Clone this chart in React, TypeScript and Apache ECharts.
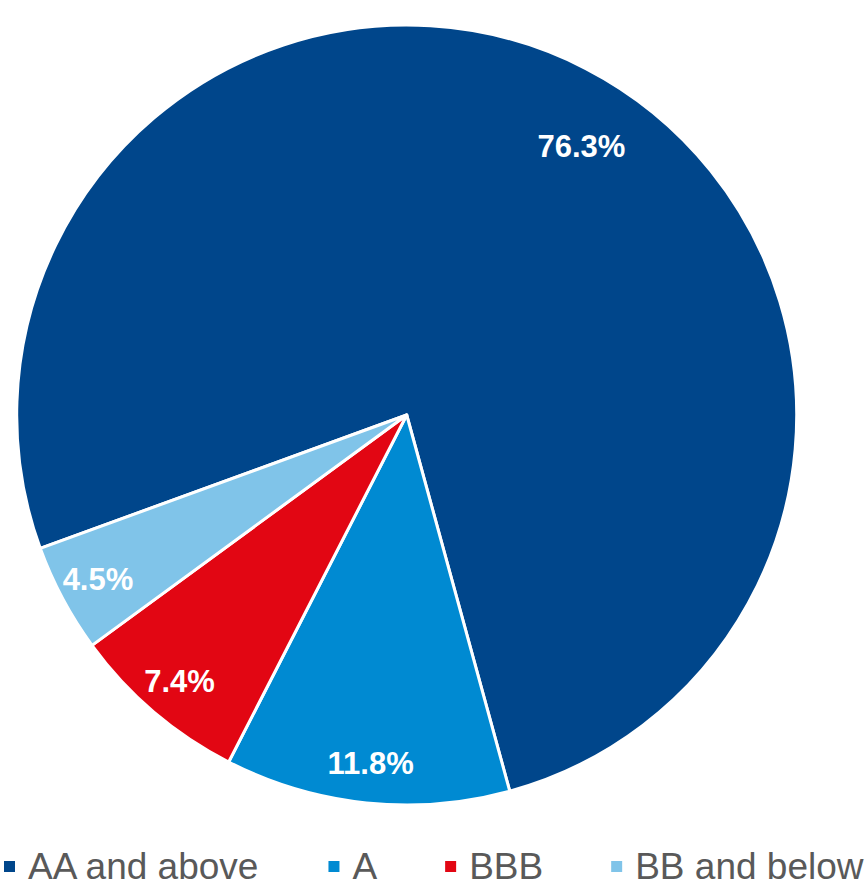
import React, { useEffect, useRef } from "react";
import * as echarts from "echarts";

const categories = ["AA and above", "A", "BBB", "BB and below"];
const shares = [76.3, 11.8, 7.4, 4.5];
const colors = ["#00468B", "#008AD2", "#E20613", "#80C4E9"];

export default function App() {
  const ref = useRef<HTMLDivElement>(null);
  useEffect(() => {
    if (!ref.current) return;
    const chart = echarts.init(ref.current, undefined, { renderer: "svg" });
    const data = categories.map((name, i) => ({
      name,
      value: shares[i],
      itemStyle: { color: colors[i] },
    }));
    chart.setOption({
      animation: false,
      backgroundColor: "#ffffff",
      textStyle: { fontFamily: "Liberation Sans, Arial, sans-serif" },
      legend: {
        data: categories,
        left: 2,
        top: 848,
        width: 1000,
        padding: 0,
        icon: "rect",
        itemWidth: 13,
        itemHeight: 13,
        itemGap: 66,
        textStyle: {
          color: "#595959",
          fontSize: 37,
          fontFamily: "Liberation Sans, Arial, sans-serif",
          padding: [0, 0, 0, 7],
        },
      },
      series: [
        {
          type: "pie",
          center: [406.7, 415],
          radius: 390,
          startAngle: 200,
          clockwise: true,
          silent: true,
          data,
          label: { show: false },
          labelLine: { show: false },
          itemStyle: { borderColor: "#ffffff", borderWidth: 3 },
        },
        {
          type: "pie",
          center: [406.7, 415],
          radius: [304, 390],
          startAngle: 200,
          clockwise: true,
          silent: true,
          data: categories.map((name, i) => ({ name, value: shares[i] })),
          itemStyle: { color: "rgba(0,0,0,0)", borderWidth: 0 },
          label: {
            show: true,
            position: "inside",
            formatter: (p: any) => p.value.toFixed(1) + "%",
            color: "#ffffff",
            fontSize: 31,
            fontWeight: "bold",
            fontFamily: "Liberation Sans, Arial, sans-serif",
          },
          labelLine: { show: false },
          labelLayout: (p: any) => (p.dataIndex === 0 ? { dx: 14, dy: 42 } : {}),
          legendHoverLink: false,
        },
      ],
    });
    return () => chart.dispose();
  }, []);
  return (
    <div
      ref={ref}
      style={{ position: "absolute", left: 0, top: 0, width: 866, height: 887 }}
    />
  );
}
